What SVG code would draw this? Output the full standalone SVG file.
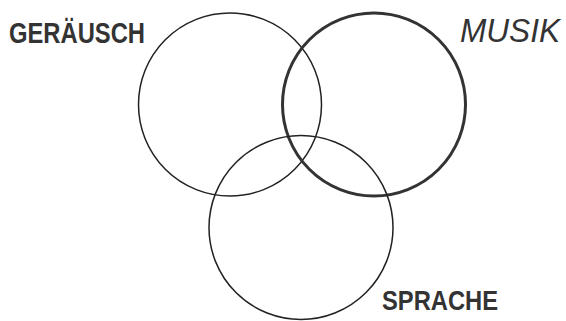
<svg xmlns="http://www.w3.org/2000/svg" width="566" height="321" viewBox="0 0 566 321">
<style>
.c{fill:none;stroke:#222;stroke-width:1.5}
.t{font-family:"Liberation Sans",Arial,sans-serif;fill:#333}
.b{font-weight:bold}
</style>
<rect width="566" height="321" fill="#fff"/>
<g id="geraeusch"><circle class="c" cx="230" cy="104.5" r="91.5"/><text class="t b" x="9" y="43" font-size="29" textLength="136" lengthAdjust="spacingAndGlyphs">GERÄUSCH</text></g>
<g id="musik"><circle class="c" cx="374" cy="104.5" r="91.5" style="stroke-width:3;stroke:#333"/><text class="t" x="460" y="42" font-size="33" font-style="italic" textLength="100" lengthAdjust="spacingAndGlyphs">MUSIK</text></g>
<g id="sprache"><circle class="c" cx="301" cy="227.5" r="92"/><text class="t b" x="382" y="310" font-size="28" textLength="116" lengthAdjust="spacingAndGlyphs">SPRACHE</text></g>
<g id="connectors"/>
</svg>
